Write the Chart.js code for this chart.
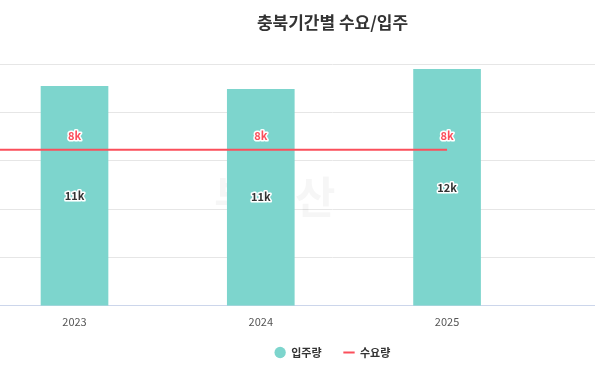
<!DOCTYPE html>
<html>
<head>
<meta charset="utf-8">
<script src="https://cdn.jsdelivr.net/npm/chart.js@4.4.1/dist/chart.umd.min.js"></script>
<style>
  html, body { margin: 0; padding: 0; background: #fff; overflow: hidden; }
  #wrap { width: 595px; height: 377px; overflow: hidden; position: relative; }
  canvas { position: absolute; left: 0; top: 0; }
</style>
</head>
<body>
<div id="wrap"><canvas id="chart" width="665" height="377"></canvas></div>
<script>
// values in thousands
const years = [2023, 2024, 2025];
const supply = [11.36, 11.21, 12.24];       // 입주량
const demandYears = [2022, 2023, 2024, 2025];
const demand = [8.08, 8.08, 8.08, 8.08];     // 수요량
const yTicks = [0, 2.5, 5, 7.5, 10, 12.5];

const FONT = '"Noto Sans CJK KR", "Noto Sans", sans-serif';
const TEAL = '#7dd5cd';
const RED = '#fb4f5b';

const watermark = {
    id: 'watermark',
    beforeDatasetsDraw(chart) {
        const ctx = chart.ctx;
        ctx.save();
        ctx.fillStyle = 'rgba(0,0,0,0.035)';
        ctx.font = 'bold 44px ' + FONT;
        ctx.textBaseline = 'alphabetic';
        ctx.fillText('부동산', 214, 214);
        ctx.restore();
    },
};

// pull the legend a little closer to the axis without touching the plot
const legendNudge = {
    id: 'legendNudge',
    afterLayout(chart) {
        chart.legend.top -= 9;
        chart.legend.bottom -= 9;
    },
};

const valueLabels = {
    id: 'valueLabels',
    afterDatasetsDraw(chart) {
        const ctx = chart.ctx;
        ctx.save();
        ctx.font = 'bold 11px ' + FONT;
        ctx.textAlign = 'center';
        ctx.textBaseline = 'middle';
        ctx.lineJoin = 'round';
        ctx.lineWidth = 3;
        ctx.strokeStyle = '#fff';

        const barMeta = chart.getDatasetMeta(0);
        barMeta.data.forEach((bar, i) => {
            const text = Math.round(supply[i]) + 'k';
            const y = (bar.y + bar.base) / 2;
            ctx.strokeText(text, bar.x, y);
            ctx.fillStyle = '#333';
            ctx.fillText(text, bar.x, y);
        });

        const lineMeta = chart.getDatasetMeta(1);
        lineMeta.data.forEach((pt, i) => {
            if (pt.x < chart.chartArea.left) return;
            const text = Math.round(demand[i]) + 'k';
            ctx.strokeText(text, pt.x, pt.y - 14);
            ctx.fillStyle = RED;
            ctx.fillText(text, pt.x, pt.y - 14);
        });
        ctx.restore();
    },
};

new Chart(document.getElementById('chart'), {
    type: 'bar',
    data: {
        datasets: [
            {
                type: 'bar',
                label: '입주량',
                data: years.map((x, i) => ({ x, y: supply[i] })),
                backgroundColor: TEAL,
                barThickness: 67,
                order: 2,
                pointStyle: 'circle',
            },
            {
                type: 'line',
                label: '수요량',
                data: demandYears.map((x, i) => ({ x, y: demand[i] })),
                borderColor: RED,
                backgroundColor: RED,
                borderWidth: 2,
                pointRadius: 0,
                pointStyle: 'line',
                order: 1,
            },
        ],
    },
    options: {
        responsive: false,
        animation: false,
        layout: { padding: 0 },
        plugins: {
            title: {
                display: true,
                text: '충북기간별 수요/입주',
                color: '#333',
                font: { family: FONT, size: 17, weight: 'bold' },
                padding: { top: 12, bottom: 32 },
            },
            legend: {
                position: 'bottom',
                labels: {
                    usePointStyle: true,
                    boxHeight: 8,
                    color: '#333',
                    font: { family: FONT, size: 11, weight: 'bold' },
                    padding: 22,
                    sort: (a, b) => a.datasetIndex - b.datasetIndex,
                },
            },
            tooltip: { enabled: false },
        },
        scales: {
            x: {
                type: 'linear',
                offset: false,
                min: 2022.6,
                max: 2026.17,
                afterBuildTicks: (scale) => {
                    scale.ticks = years.map((v) => ({ value: v }));
                },
                afterFit: (scale) => {
                    scale.height -= 3;
                },
                ticks: {
                    color: '#555',
                    font: { family: FONT, size: 11 },
                    padding: 9,
                    callback: (v) => String(v),
                },
                grid: { display: false, drawTicks: false },
                border: { color: '#ccd6eb', width: 1 },
            },
            y: {
                min: 0,
                max: 12.5,
                afterBuildTicks: (scale) => {
                    scale.ticks = yTicks.map((v) => ({ value: v }));
                },
                ticks: { display: false },
                grid: { color: '#e6e6e6', drawTicks: false },
                border: { display: false },
            },
        },
    },
    plugins: [watermark, legendNudge, valueLabels],
});
</script>
</body>
</html>
